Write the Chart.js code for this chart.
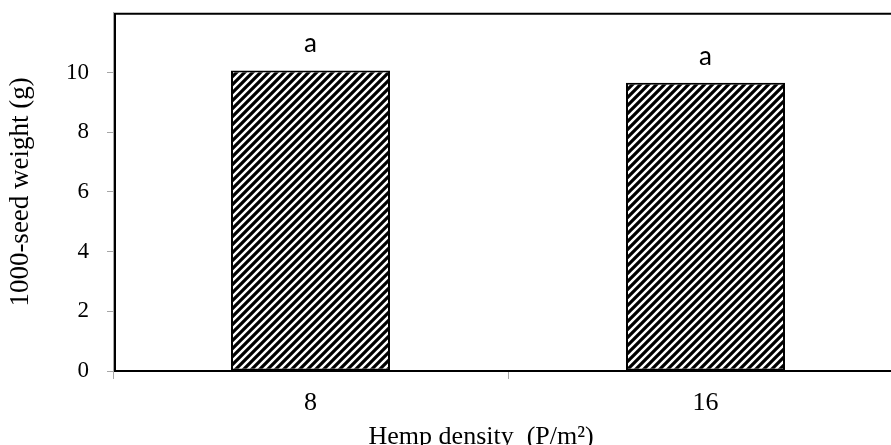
<!DOCTYPE html>
<html>
<head>
<meta charset="utf-8">
<script src="https://cdn.jsdelivr.net/npm/chart.js@4"></script>
<style>
html,body{margin:0;padding:0;background:#fff;overflow:hidden;width:891px;height:445px;}
#wrap{position:relative;width:891px;height:445px;overflow:hidden;}
#c{position:absolute;left:0;top:-19px;}
</style>
</head>
<body>
<div id="wrap"><canvas id="c" width="905" height="464"></canvas></div>
<script>
const categories = ['8', '16'];
const seedWeight = [10.07, 9.66];
const letters = ['a', 'a'];
const yTicks = [0, 2, 4, 6, 8, 10];
const yMax = 12;
const xTitle = 'Hemp density  (P/m\u00B2)';
const yTitle = '1000-seed weight (g)';

function hatch() {
  const c = document.createElement('canvas');
  c.width = 8; c.height = 8;
  const g = c.getContext('2d');
  g.fillStyle = '#fff'; g.fillRect(0, 0, 8, 8);
  g.strokeStyle = '#000'; g.lineWidth = 3.2;
  g.beginPath();
  g.moveTo(-1, 9); g.lineTo(9, -1);
  g.moveTo(-2, 2); g.lineTo(2, -2);
  g.moveTo(6, 10); g.lineTo(10, 6);
  g.stroke();
  return g.createPattern(c, 'repeat');
}

const frame = {
  id: 'frame',
  afterDraw(chart) {
    const {ctx, chartArea: a} = chart;
    ctx.save();
    ctx.strokeStyle = '#000';
    ctx.lineWidth = 2;
    ctx.beginPath();
    ctx.moveTo(a.left + 2, a.bottom);
    ctx.lineTo(a.left + 2, a.top + 1);
    ctx.lineTo(a.right, a.top + 1);
    ctx.lineTo(a.right, a.bottom);
    ctx.moveTo(a.left + 1, a.bottom);
    ctx.lineTo(a.right, a.bottom);
    ctx.stroke();
    // x title
    ctx.fillStyle = '#000';
    ctx.font = '26px "Liberation Serif", "Times New Roman", serif';
    ctx.textAlign = 'center';
    ctx.textBaseline = 'alphabetic';
    ctx.fillText(xTitle, a.left + (a.right - a.left) * 0.466, chart.height - 1);
    ctx.restore();
  }
};

const letterLabels = {
  id: 'letterLabels',
  afterDatasetsDraw(chart) {
    const {ctx} = chart;
    const meta = chart.getDatasetMeta(0);
    ctx.save();
    ctx.fillStyle = '#000';
    ctx.font = '26px Lato, "Open Sans", sans-serif';
    ctx.textAlign = 'center';
    ctx.textBaseline = 'alphabetic';
    meta.data.forEach((bar, i) => {
      ctx.fillText(letters[i], bar.x, bar.y - 18);
    });
    ctx.restore();
  }
};

new Chart(document.getElementById('c'), {
  type: 'bar',
  data: {
    labels: categories,
    datasets: [{
      data: seedWeight,
      backgroundColor: hatch(),
      borderColor: '#000',
      borderWidth: 2,
      borderSkipped: false,
      categoryPercentage: 1.0,
      barPercentage: 0.4025
    }]
  },
  options: {
    responsive: false,
    animation: false,
    devicePixelRatio: 1,
    layout: {padding: {left: 0, top: 12, right: 2, bottom: 0}},
    plugins: {legend: {display: false}, tooltip: {enabled: false}},
    scales: {
      x: {
        offset: true,
        grid: {display: true, drawOnChartArea: false, offset: true, tickLength: 8, color: '#a6a6a6', lineWidth: 1},
        border: {display: false},
        ticks: {color: '#000', padding: 9, font: {family: '"Liberation Serif", "Times New Roman", serif', size: 26}},
        afterFit(s) { s.height = 74; }
      },
      y: {
        min: 0, max: yMax,
        afterBuildTicks(s) { s.ticks = yTicks.map(v => ({value: v})); },
        grid: {drawOnChartArea: false, tickLength: 6, color: '#a6a6a6'},
        border: {display: true, color: '#a6a6a6', width: 1},
        ticks: {color: '#000', padding: 18,
                font: {family: '"Liberation Serif", "Times New Roman", serif', size: 23}},
        title: {display: true, text: yTitle, color: '#000', padding: {top: 5, bottom: 0},
                font: {family: '"Liberation Serif", "Times New Roman", serif', size: 27}},
        afterFit(s) { s.width = 113; }
      }
    }
  },
  plugins: [letterLabels, frame]
});
</script>
</body>
</html>
